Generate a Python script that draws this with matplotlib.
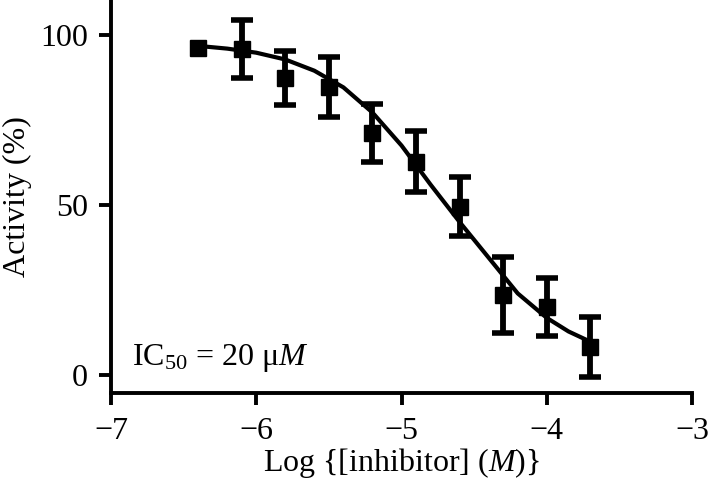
import numpy as np
import matplotlib
matplotlib.use("Agg")
import matplotlib.pyplot as plt

plt.rcParams['font.family'] = ['Liberation Serif', 'DejaVu Serif']
plt.rcParams['mathtext.fontset'] = 'custom'
plt.rcParams['mathtext.rm'] = 'Liberation Serif'
plt.rcParams['mathtext.it'] = 'Liberation Serif:italic'

# measured points (mean +/- error)
log_conc = [-6.4, -6.1, -5.8, -5.5, -5.2, -4.9, -4.6, -4.3, -4.0, -3.7]
activity = [96.1, 95.8, 87.3, 84.8, 71.1, 62.7, 49.5, 23.5, 20.1, 8.3]
act_err = [np.nan, 8.5, 7.9, 8.8, 8.5, 9.0, 8.6, 11.2, 8.5, 8.8]

# fitted dose-response curve
fit_x = [-6.40, -6.20, -6.00, -5.80, -5.60, -5.40, -5.20, -5.00,
         -4.80, -4.60, -4.40, -4.20, -4.00, -3.85, -3.70]
fit_y = [96.8, 96.0, 94.8, 92.8, 89.5, 84.6, 77.2, 67.5,
         56.0, 45.0, 34.5, 24.0, 16.8, 12.8, 9.8]

xticks = [-7, -6, -5, -4, -3]
yticks = [0, 50, 100]

fig = plt.figure(figsize=(7.08, 4.84), dpi=100)
ax = fig.add_axes([0.1568, 0.188, 0.8206, 0.812])

ax.plot(fit_x, fit_y, '-', color='black', lw=3.0, zorder=2,
        solid_joinstyle='round')
ax.errorbar(log_conc, activity, yerr=act_err, fmt='s', color='black',
            ms=11, elinewidth=4.2, capsize=8, capthick=4.0, zorder=3,
            clip_on=False)

ax.set_xlim(-7, -3)
ax.set_ylim(-5.3, 110.3)
ax.set_xticks(xticks)
ax.set_yticks(yticks)

for side in ['top', 'right']:
    ax.spines[side].set_visible(False)
for side in ['left', 'bottom']:
    ax.spines[side].set_linewidth(2.8)
ax.tick_params(width=2.8, length=8.5, labelsize=23)
ax.tick_params(axis='x', pad=9)
ax.tick_params(axis='y', pad=8)

ax.set_xlabel(r'Log {[inhibitor] ($\mathit{M}$)}', fontsize=23, labelpad=0)
ax.set_ylabel('Activity (%)', fontsize=23, labelpad=6)

ax.text(-6.855, 2.9, r'IC$_{\mathrm{50}}$ = 20 μ$\mathit{M}$', fontsize=23,
        ha='left', va='baseline')

fig.savefig('out.png', dpi=100)
